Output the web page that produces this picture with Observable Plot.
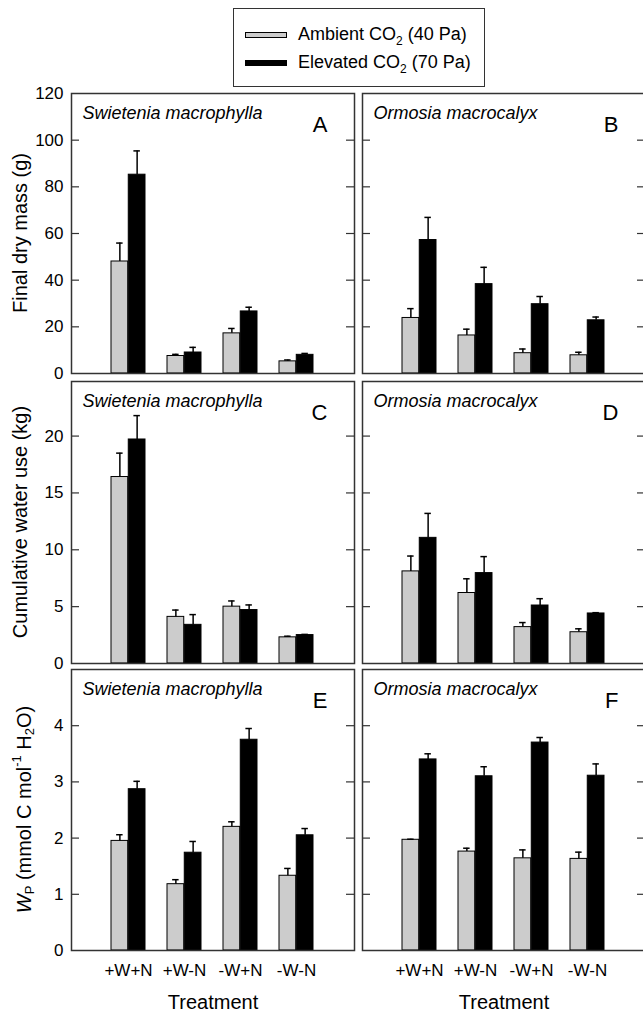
<!DOCTYPE html>
<html><head><meta charset="utf-8">
<script src="https://cdn.jsdelivr.net/npm/d3@7"></script>
<script src="https://cdn.jsdelivr.net/npm/@observablehq/plot@0.6"></script>
<style>
html,body{margin:0;padding:0;background:#fff;}
#wrap{position:relative;width:643px;height:1013px;overflow:hidden;font-family:"Liberation Sans",Arial,sans-serif;}
#wrap svg{position:absolute;overflow:visible;}
.legend{position:absolute;left:233px;top:8px;width:252px;height:79px;border:1.5px solid #333;box-sizing:border-box;}
.legend .sw{position:absolute;left:11px;width:42px;height:6px;border:1px solid #000;box-sizing:border-box;}
.legend .lt{position:absolute;left:64px;font-size:18px;line-height:18px;white-space:nowrap;color:#000;}
.legend sub{font-size:12px;vertical-align:-5px;line-height:0;}
</style>
</head><body>
<div id="wrap">
  <div class="legend">
    <div class="sw" style="top:23px;background:#cccccc"></div>
    <div class="lt" style="top:16px">Ambient CO<sub>2</sub> (40 Pa)</div>
    <div class="sw" style="top:51px;background:#000"></div>
    <div class="lt" style="top:44px">Elevated CO<sub>2</sub> (70 Pa)</div>
  </div>
</div>
<script>
// ---- data ----
const treatments = ["+W+N", "+W-N", "-W+N", "-W-N"];
const species = ["Swietenia macrophylla", "Ormosia macrocalyx"];
const panelLetters = [["A", "B"], ["C", "D"], ["E", "F"]];

// Final dry mass (g): mean and upper end of error bar
const massSwAmb = [48.0, 7.5, 17.2, 5.2];
const massSwAmbUp = [55.9, 8.2, 19.3, 5.8];
const massSwElev = [85.2, 9.0, 26.6, 8.0];
const massSwElevUp = [95.4, 11.2, 28.4, 8.6];
const massOrAmb = [23.8, 16.3, 8.7, 7.8];
const massOrAmbUp = [27.8, 19.0, 10.5, 9.1];
const massOrElev = [57.2, 38.3, 29.7, 22.8];
const massOrElevUp = [66.9, 45.5, 33.0, 24.2];

// Cumulative water use (kg)
const waterSwAmb = [16.4, 4.1, 5.0, 2.3];
const waterSwAmbUp = [18.5, 4.7, 5.5, 2.4];
const waterSwElev = [19.7, 3.4, 4.7, 2.5];
const waterSwElevUp = [21.8, 4.3, 5.15, 2.56];
const waterOrAmb = [8.1, 6.2, 3.2, 2.75];
const waterOrAmbUp = [9.45, 7.45, 3.6, 3.05];
const waterOrElev = [11.05, 7.95, 5.1, 4.4];
const waterOrElevUp = [13.2, 9.4, 5.7, 4.47];

// WP (mmol C mol-1 H2O)
const wpSwAmb = [1.95, 1.18, 2.2, 1.33];
const wpSwAmbUp = [2.06, 1.26, 2.29, 1.46];
const wpSwElev = [2.87, 1.74, 3.75, 2.05];
const wpSwElevUp = [3.01, 1.94, 3.95, 2.17];
const wpOrAmb = [1.97, 1.76, 1.64, 1.63];
const wpOrAmbUp = [1.98, 1.82, 1.79, 1.75];
const wpOrElev = [3.40, 3.10, 3.70, 3.11];
const wpOrElevUp = [3.50, 3.27, 3.79, 3.32];

const massTicks = [0, 20, 40, 60, 80, 100, 120];
const waterTicks = [0, 5, 10, 15, 20];
const wpTicks = [0, 1, 2, 3, 4];

// ---- layout ----
const rows = [
  {domain: [0, 120], ticks: massTicks, label: "Final dry mass (g)",
   series: [[massSwAmb, massSwAmbUp, massSwElev, massSwElevUp], [massOrAmb, massOrAmbUp, massOrElev, massOrElevUp]]},
  {domain: [0, 24.8], ticks: waterTicks, label: "Cumulative water use (kg)",
   series: [[waterSwAmb, waterSwAmbUp, waterSwElev, waterSwElevUp], [waterOrAmb, waterOrAmbUp, waterOrElev, waterOrElevUp]]},
  {domain: [0, 5], ticks: wpTicks, label: null,
   series: [[wpSwAmb, wpSwAmbUp, wpSwElev, wpSwElevUp], [wpOrAmb, wpOrAmbUp, wpOrElev, wpOrElevUp]]}
];
const colL = [71, 362], colR = [354, 645];
const rowT = [93, 381, 669], rowB = [373, 663, 950];
const labelX = [20, 20, 24];

const wrap = document.getElementById("wrap");
const font = "Liberation Sans, Arial, sans-serif";

rows.forEach((row, ri) => {
  [0, 1].forEach(ci => {
    const [amb, ambUp, elev, elevUp] = row.series[ci];
    const A = treatments.map((t, i) => ({t, v: amb[i], u: ambUp[i]}));
    const E = treatments.map((t, i) => ({t, v: elev[i], u: elevUp[i]}));
    const L = colL[ci], R = colR[ci], T = rowT[ri], B = rowB[ri];
    const fw = R - L, fh = B - T;
    const mL = ci === 0 ? L : 2, mR = 2, mT = 2, mB = ri === 2 ? 63 : 2;
    const pad = 0.39, padOuter = 0.695;
    const step = fw / (treatments.length - pad + 2 * padOuter);
    const bw = step * (1 - pad);
    const cap = 3.5;
    const inner = row.ticks.filter(d => d > row.domain[0] && d < row.domain[1]);
    const marks = [
      Plot.barY(A, {x: "t", y: "v", fill: "#cccccc", stroke: "#000", strokeWidth: 1, insetRight: bw / 2}),
      Plot.barY(E, {x: "t", y: "v", fill: "#000", stroke: "#000", strokeWidth: 1, insetLeft: bw / 2}),
      Plot.ruleX(A, {x: "t", y1: "v", y2: "u", dx: -bw / 4, stroke: "#000", strokeWidth: 1.5}),
      Plot.ruleX(E, {x: "t", y1: "v", y2: "u", dx: bw / 4, stroke: "#000", strokeWidth: 1.5}),
      Plot.tickY(A, {x: "t", y: "u", insetLeft: bw / 4 - cap, insetRight: 3 * bw / 4 - cap, stroke: "#000", strokeWidth: 1.5}),
      Plot.tickY(E, {x: "t", y: "u", insetLeft: 3 * bw / 4 - cap, insetRight: bw / 4 - cap, stroke: "#000", strokeWidth: 1.5}),
      Plot.tickY(inner, {y: d => d, insetRight: fw - 8, stroke: "#333", strokeWidth: 1.2}),
      Plot.tickY(inner, {y: d => d, insetLeft: fw - 8, stroke: "#333", strokeWidth: 1.2}),
      Plot.frame({stroke: "#333", strokeWidth: 1.5}),
      Plot.text([species[ci]], {text: d => d, frameAnchor: "top-left", dx: 11, dy: 13, lineAnchor: "top", fontStyle: "italic", fontSize: 18, fill: "#000"}),
      Plot.text([panelLetters[ri][ci]], {text: d => d, frameAnchor: "top-right", textAnchor: "end", dx: -27, dy: 23, lineAnchor: "top", fontSize: 22, fill: "#000"})
    ];
    if (ci === 0) marks.push(Plot.axisY({ticks: row.ticks, tickFormat: d3.format("~g"), tickSize: 0, tickPadding: 8, label: null, fontSize: 17}));
    if (ri === 2) {
      marks.push(Plot.axisX({tickSize: 0, tickPadding: 13, label: null, fontSize: 17}));
      marks.push(Plot.text(["Treatment"], {text: d => d, frameAnchor: "bottom", dy: 44, lineAnchor: "top", fontSize: 20, fill: "#000"}));
    }
    const opts = {
      width: mL + fw + mR, height: mT + fh + mB,
      marginLeft: mL, marginRight: mR, marginTop: mT, marginBottom: mB,
      style: {fontFamily: font, fontSize: "17px", background: "transparent", color: "#000"},
      x: {type: "band", domain: treatments, paddingInner: pad, paddingOuter: padOuter, align: 0.5},
      y: {domain: row.domain},
      marks
    };
    if (ri !== 2) opts.x.axis = null;
    if (ci !== 0) opts.y.axis = null;
    const svg = Plot.plot(opts);
    svg.style.position = "absolute";
    svg.style.left = (L - mL) + "px";
    svg.style.top = (T - mT) + "px";
    svg.style.maxWidth = "none";
    wrap.appendChild(svg);

    if (ci === 0) {
      const t = d3.select(svg).append("text")
        .attr("transform", `translate(${labelX[ri]},${mT + fh / 2}) rotate(-90)`)
        .attr("text-anchor", "middle")
        .attr("dominant-baseline", "central")
        .attr("font-size", 20)
        .attr("font-family", font)
        .attr("fill", "#000");
      if (row.label) {
        t.text(row.label);
      } else {
        t.append("tspan").attr("font-style", "italic").text("W");
        t.append("tspan").attr("font-size", 13).attr("dy", 5).text("P");
        t.append("tspan").attr("dy", -5).text(" (mmol C mol");
        t.append("tspan").attr("font-size", 13).attr("dy", -8).text("-1");
        t.append("tspan").attr("dy", 8).text(" H");
        t.append("tspan").attr("font-size", 13).attr("dy", 5).text("2");
        t.append("tspan").attr("dy", -5).text("O)");
      }
    }
  });
});
</script>
</body></html>
